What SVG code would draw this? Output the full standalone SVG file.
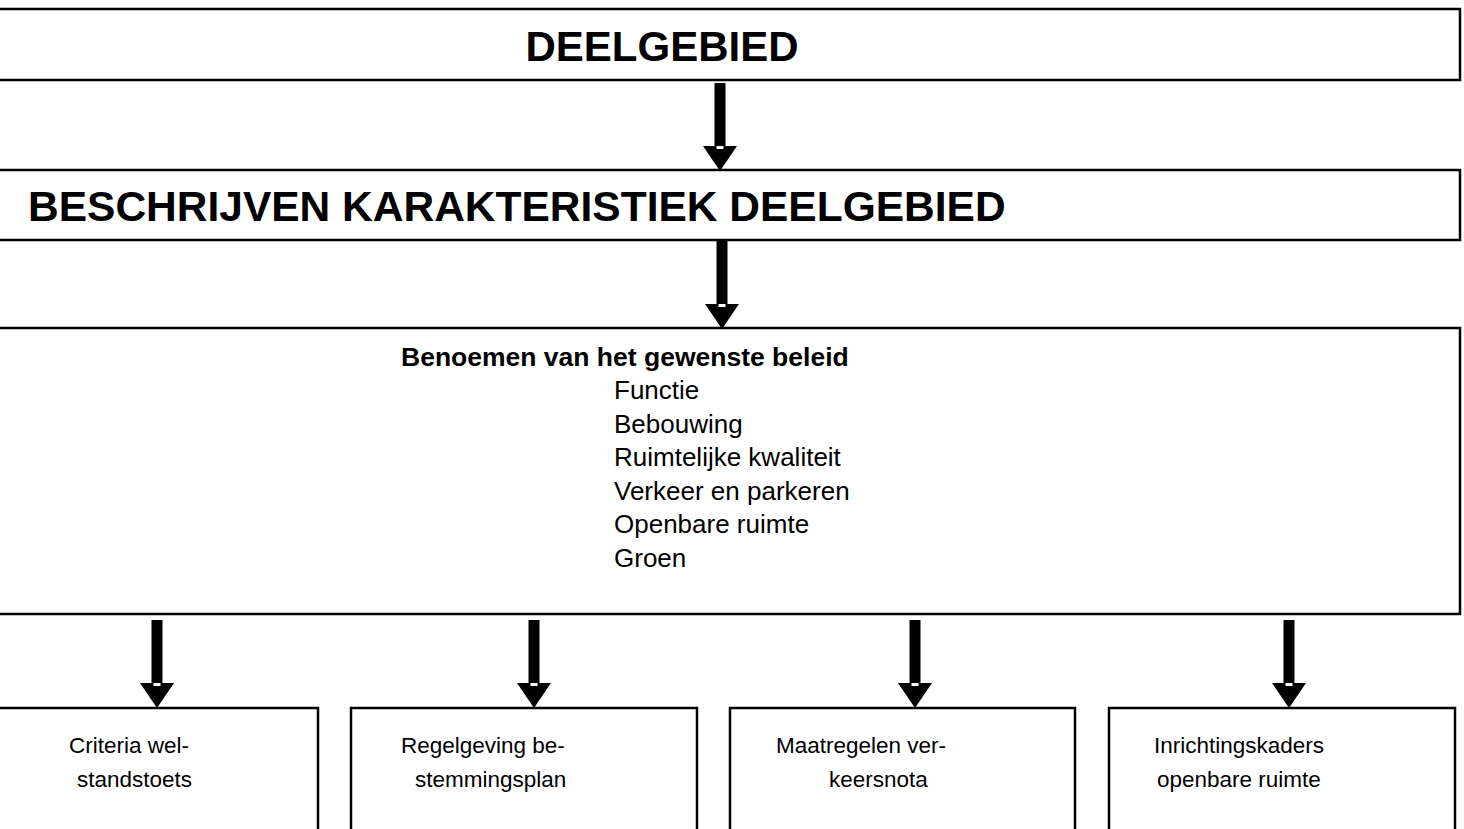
<svg xmlns="http://www.w3.org/2000/svg" width="1464" height="829" viewBox="0 0 1464 829">
<style>
.box{fill:#fff;stroke:#000;stroke-width:2.5}
.h{font-family:"Liberation Sans",Arial,sans-serif;font-weight:bold;font-size:42px;fill:#000}
.b{font-family:"Liberation Sans",Arial,sans-serif;font-weight:bold;font-size:26.5px;fill:#000}
.t{font-family:"Liberation Sans",Arial,sans-serif;font-size:26px;fill:#000}
.s{font-family:"Liberation Sans",Arial,sans-serif;font-size:22.5px;fill:#000}
</style>
<defs>
<g id="arr">
<rect x="-5.5" y="0" width="11" height="67" fill="#000"/>
<polygon points="-17,63 17,63 0,88" fill="#000"/>
<rect x="-3.5" y="63" width="7" height="3" fill="#fff"/>
</g>
</defs>
<rect width="1464" height="829" fill="#fff"/>
<g id="n1">
<rect class="box" x="-10" y="9" width="1470" height="71"/>
<text class="h" x="662" y="61" text-anchor="middle">DEELGEBIED</text>
</g>
<g id="n2">
<rect class="box" x="-10" y="170" width="1470" height="70"/>
<text class="h" x="28" y="221" style="font-size:42.5px">BESCHRIJVEN KARAKTERISTIEK DEELGEBIED</text>
</g>
<g id="n3">
<rect class="box" x="-10" y="328" width="1470" height="286"/>
<text class="b" x="401" y="366">Benoemen van het gewenste beleid</text>
<text class="t" x="614" y="399">Functie</text>
<text class="t" x="614" y="433">Bebouwing</text>
<text class="t" x="614" y="466">Ruimtelijke kwaliteit</text>
<text class="t" x="614" y="500">Verkeer en parkeren</text>
<text class="t" x="614" y="533">Openbare ruimte</text>
<text class="t" x="614" y="567">Groen</text>
</g>
<g id="n4">
<rect class="box" x="-10" y="708" width="328" height="140"/>
<text class="s" x="69" y="753">Criteria wel-</text>
<text class="s" x="77" y="787">standstoets</text>
</g>
<g id="n5">
<rect class="box" x="351" y="708" width="346" height="140"/>
<text class="s" x="401" y="753">Regelgeving be-</text>
<text class="s" x="415" y="787">stemmingsplan</text>
</g>
<g id="n6">
<rect class="box" x="730" y="708" width="345" height="140"/>
<text class="s" x="776" y="753">Maatregelen ver-</text>
<text class="s" x="829" y="787">keersnota</text>
</g>
<g id="n7">
<rect class="box" x="1109" y="708" width="346" height="140"/>
<text class="s" x="1154" y="753">Inrichtingskaders</text>
<text class="s" x="1157" y="787">openbare ruimte</text>
</g>
<g id="connectors">
<use href="#arr" x="720" y="83"/>
<use href="#arr" x="722" y="241"/>
<use href="#arr" x="157" y="620"/>
<use href="#arr" x="534" y="620"/>
<use href="#arr" x="915" y="620"/>
<use href="#arr" x="1289" y="620"/>
</g>
</svg>
